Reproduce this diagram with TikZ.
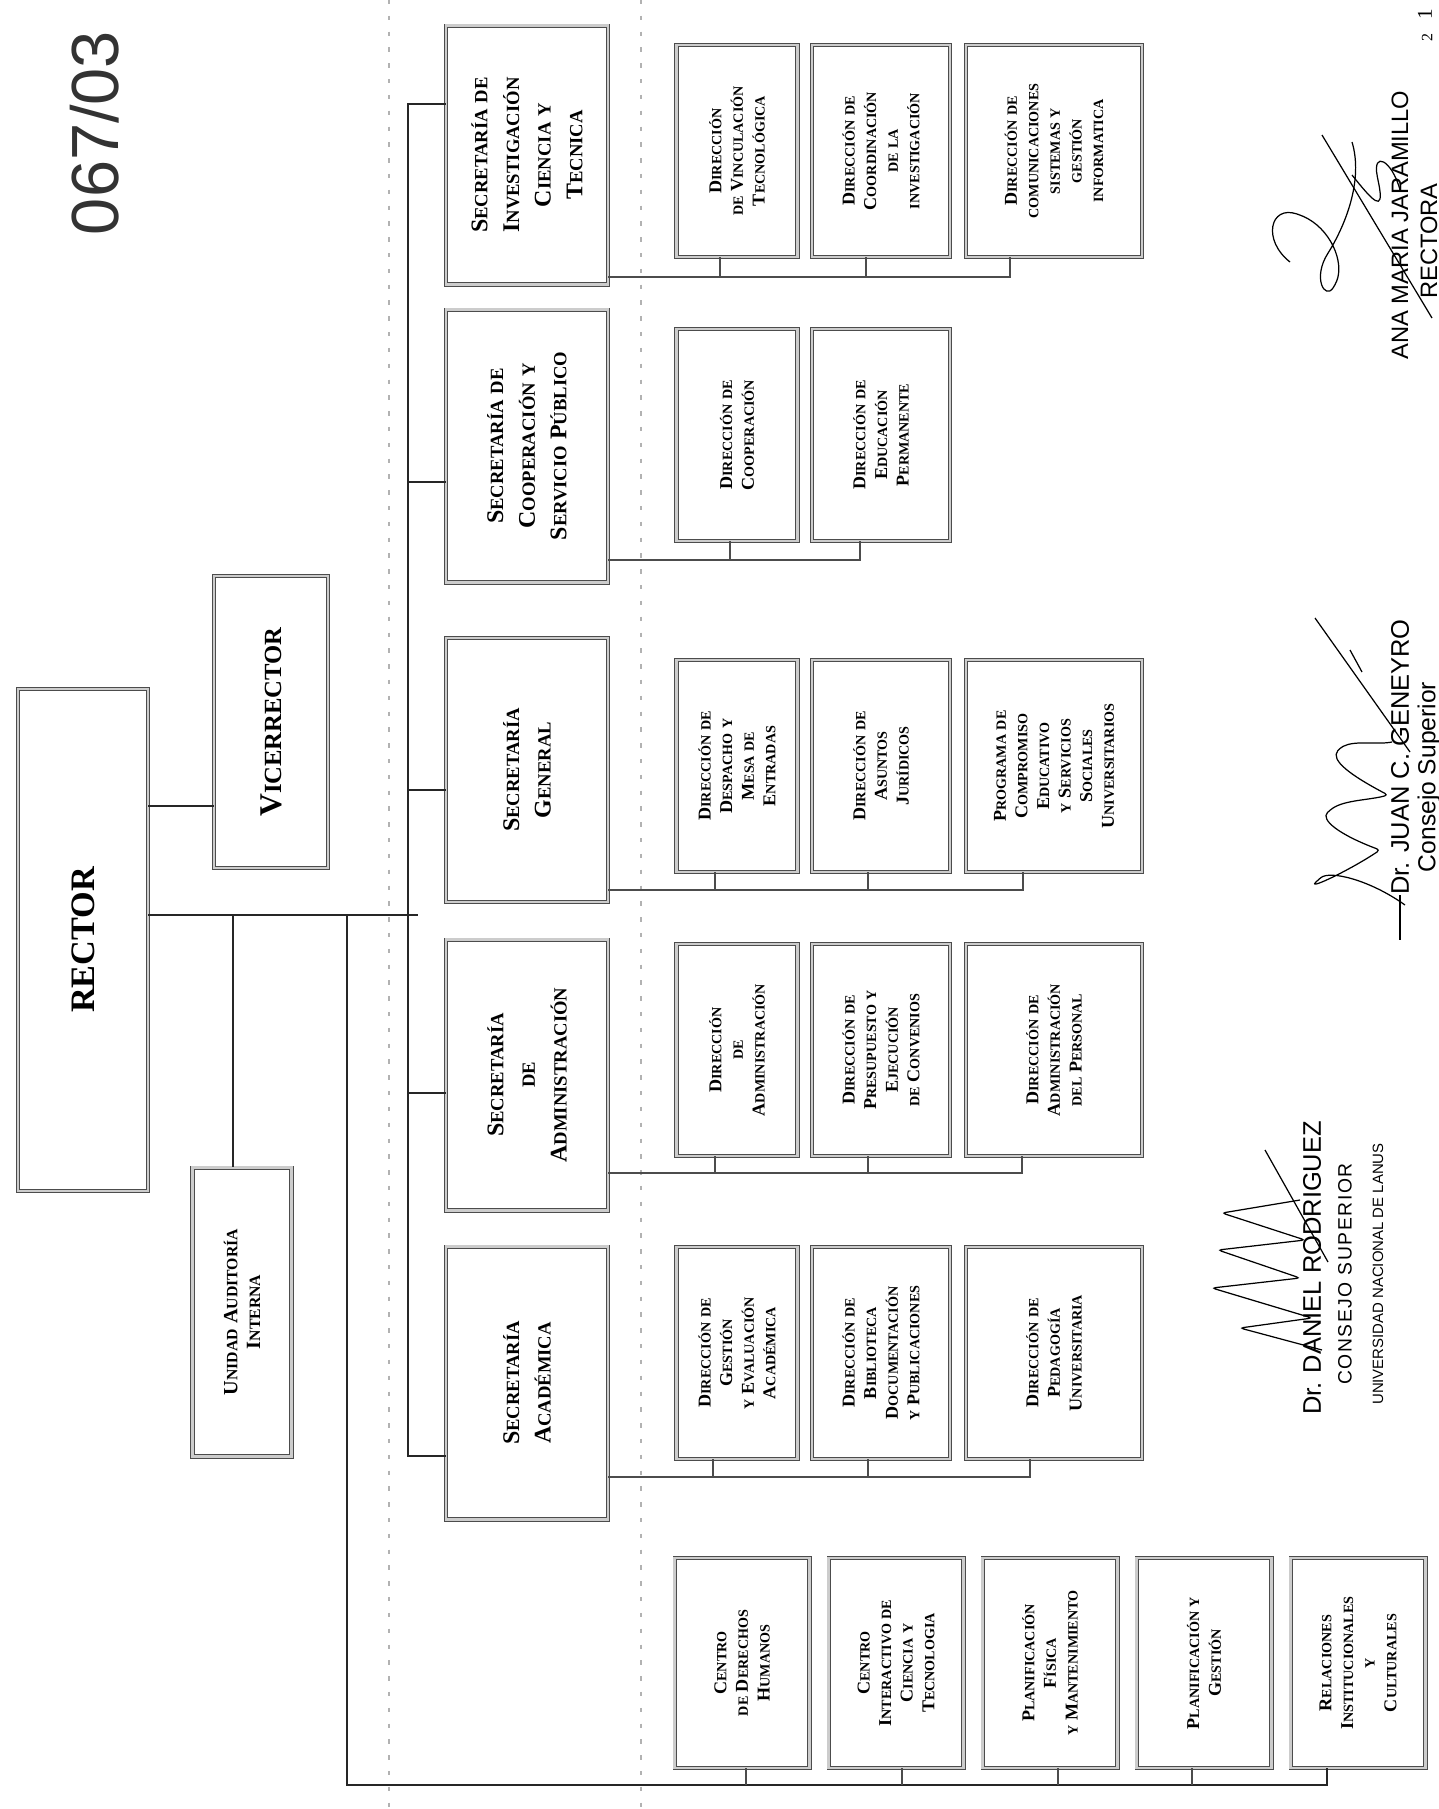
\documentclass[tikz,border=0pt]{standalone}
\usepackage{fontspec}
\setmainfont{Liberation Serif}
\newfontfamily\scfont[Scale=0.78]{Liberation Serif}
\newfontfamily\signfont{Liberation Sans}
% small caps by hand: capitals full size, the rest as smaller capitals
\def\scend{}
\def\scloop#1 #2\scend{\scword#1\scstop\ifx\scend#2\scend\else\ \scloop#2\scend\fi}
\def\scword#1#2\scstop{\ifnum\lccode`#1=`#1\relax{\scfont\uppercase{#1}}\else#1\fi{\scfont\uppercase{#2}}}
\newcommand\sct[1]{\scloop#1 \scend}

\begin{document}
\begin{tikzpicture}[x=0.02cm, y=-0.02cm,
    box/.style={draw=black!70, double=gray!40, double distance=1.3pt, line width=0.5pt,
      fill=white, rotate=90, align=center, inner sep=0pt},
    rectorbox/.style={box, minimum width=10.04cm, minimum height=2.6cm,
      font=\bfseries\fontsize{19.5}{22}\selectfont},
    vicebox/.style={box, minimum width=5.84cm, minimum height=2.28cm,
      font=\bfseries\fontsize{18}{20}\selectfont},
    secbox/.style={box, minimum height=3.24cm, font=\bfseries\fontsize{13.6}{18}\selectfont},
    dirbox/.style={box, minimum width=4.24cm, font=\bfseries\fontsize{10.3}{12.3}\selectfont},
    colA/.style={dirbox, minimum height=2.42cm},
    colB/.style={dirbox, minimum height=2.76cm},
    colC/.style={dirbox, minimum height=3.52cm},
    staffbox/.style={box, minimum width=4.2cm, minimum height=2.7cm,
      font=\bfseries\fontsize{10.3}{12.3}\selectfont},
    link/.style={line width=1.4pt, black!85},
    bus/.style={line width=1.4pt, black!70},
    sep/.style={gray!60, line width=1.2pt, dash pattern=on 2.5pt off 6.5pt},
    sign/.style={line width=0.7pt, black, rounded corners=2pt},
    sigtext/.style={rotate=90, inner sep=0pt}]
\useasboundingbox (0,0) rectangle (1439,1809);
\fill[white] (0,0) rectangle (1439,1809);

% dividers
\draw[sep] (389,0) -- (389,1809);
\draw[sep] (641,0) -- (641,1809);

% stamp
\node[sigtext, font=\signfont\fontsize{38}{40}\selectfont, text=black!80] (stamp) at (95,133) {067/03};
\node[sigtext, font=\fontsize{12}{14}\selectfont] (pageone) at (1425,14) {1};
\node[sigtext, font=\fontsize{9}{11}\selectfont] (pagetwo) at (1427,38) {2};

% top
\node[rectorbox] (rector) at (83,940) {RECTOR};
\node[vicebox] (vice) at (271,722) {\sct{Vicerrector}};
\node[box, minimum width=5.78cm, minimum height=1.98cm,
  font=\bfseries\fontsize{11.5}{13}\selectfont] (unidad) at (242,1312)
  {\sct{Unidad Auditoría}\\\sct{Interna}};

% secretarias
\node[secbox, minimum width=5.18cm] (sinv) at (527,155)
  {\sct{Secretaría de}\\\sct{Investigación}\\\sct{Ciencia y}\\\sct{Tecnica}};
\node[secbox, minimum width=5.46cm] (scoop) at (527,446)
  {\sct{Secretaría de}\\\sct{Cooperación y}\\\sct{Servicio Público}};
\node[secbox, minimum width=5.28cm] (sgen) at (527,770)
  {\sct{Secretaría}\\\sct{General}};
\node[secbox, minimum width=5.42cm] (sadm) at (527,1075)
  {\sct{Secretaría}\\\sct{de}\\\sct{Administración}};
\node[secbox, minimum width=5.46cm] (sacad) at (527,1383)
  {\sct{Secretaría}\\\sct{Académica}};

% direcciones
\node[colA] (dinv1) at (737,151) {\sct{Dirección}\\\sct{de Vinculación}\\\sct{Tecnológica}};
\node[colB] (dinv2) at (881,151) {\sct{Dirección de}\\\sct{Coordinación}\\\sct{de la}\\\sct{investigación}};
\node[colC] (dinv3) at (1054,151) {\sct{Dirección de}\\\sct{comunicaciones}\\\sct{sistemas y}\\\sct{gestión}\\\sct{informatica}};

\node[colA] (dcoop1) at (737,435) {\sct{Dirección de}\\\sct{Cooperación}};
\node[colB] (dcoop2) at (881,435) {\sct{Dirección de}\\\sct{Educación}\\\sct{Permanente}};

\node[colA] (dgen1) at (737,766) {\sct{Dirección de}\\\sct{Despacho y}\\\sct{Mesa de}\\\sct{Entradas}};
\node[colB] (dgen2) at (881,766) {\sct{Dirección de}\\\sct{Asuntos}\\\sct{Jurídicos}};
\node[colC] (dgen3) at (1054,766) {\sct{Programa de}\\\sct{Compromiso}\\\sct{Educativo}\\\sct{y Servicios}\\\sct{Sociales}\\\sct{Universitarios}};

\node[colA] (dadm1) at (737,1050) {\sct{Dirección}\\\sct{de}\\\sct{Administración}};
\node[colB] (dadm2) at (881,1050) {\sct{Dirección de}\\\sct{Presupuesto y}\\\sct{Ejecución}\\\sct{de Convenios}};
\node[colC] (dadm3) at (1054,1050) {\sct{Dirección de}\\\sct{Administración}\\\sct{del Personal}};

\node[colA] (dacad1) at (737,1353) {\sct{Dirección de}\\\sct{Gestión}\\\sct{y Evaluación}\\\sct{Académica}};
\node[colB] (dacad2) at (881,1353) {\sct{Dirección de}\\\sct{Biblioteca}\\\sct{Documentación}\\\sct{y Publicaciones}};
\node[colC] (dacad3) at (1054,1353) {\sct{Dirección de}\\\sct{Pedagogía}\\\sct{Universitaria}};

% staff units
\node[staffbox] (staff1) at (742,1663) {\sct{Centro}\\\sct{de Derechos}\\\sct{Humanos}};
\node[staffbox] (staff2) at (896,1663) {\sct{Centro}\\\sct{Interactivo de}\\\sct{Ciencia y}\\\sct{Tecnologia}};
\node[staffbox] (staff3) at (1050,1663) {\sct{Planificación}\\\sct{Física}\\\sct{y Mantenimiento}};
\node[staffbox] (staff4) at (1204,1663) {\sct{Planificación y}\\\sct{Gestión}};
\node[staffbox] (staff5) at (1358,1663) {\sct{Relaciones}\\\sct{Institucionales}\\\sct{y}\\\sct{Culturales}};

% rector lines
\coordinate (hub) at (418,915);
\draw[link] (rector.south |- 0,806) -- (vice.north |- 0,806);
\draw[link] (rector.south |- hub) -- (hub);
\draw[link] (hub -| 233,0) -- (unidad.east -| 233,0);

% trunk to staff units
\coordinate (trunk) at (347,1785);
\coordinate (sbus) at (1327,1785);
\draw[link] (hub -| trunk) -- (trunk) -- (sbus) -- (sbus |- staff5.west);
\draw[bus] (sbus -| 746,0) -- (staff1.west -| 746,0);
\draw[bus] (sbus -| 902,0) -- (staff2.west -| 902,0);
\draw[bus] (sbus -| 1058,0) -- (staff3.west -| 1058,0);
\draw[bus] (sbus -| 1192,0) -- (staff4.west -| 1192,0);

% spine to secretarias
\coordinate (spinetop) at (408,104);
\coordinate (spinebot) at (408,1456);
\draw[link] (sinv.north |- spinetop) -- (spinetop) -- (spinebot) -- (sacad.north |- spinebot);
\draw[link] (spinetop |- 0,482) -- (scoop.north |- 0,482);
\draw[link] (spinetop |- 0,790) -- (sgen.north |- 0,790);
\draw[link] (spinetop |- 0,1093) -- (sadm.north |- 0,1093);

% secretarias to direcciones
\coordinate (binv) at (1010,277);
\draw[bus] (sinv.south |- binv) -- (binv) -- (binv |- dinv3.west);
\draw[bus] (binv -| 720,0) -- (dinv1.west -| 720,0);
\draw[bus] (binv -| 866,0) -- (dinv2.west -| 866,0);

\coordinate (bcoop) at (860,560);
\draw[bus] (scoop.south |- bcoop) -- (bcoop) -- (bcoop |- dcoop2.west);
\draw[bus] (bcoop -| 730,0) -- (dcoop1.west -| 730,0);

\coordinate (bgen) at (1023,890);
\draw[bus] (sgen.south |- bgen) -- (bgen) -- (bgen |- dgen3.west);
\draw[bus] (bgen -| 715,0) -- (dgen1.west -| 715,0);
\draw[bus] (bgen -| 868,0) -- (dgen2.west -| 868,0);

\coordinate (badm) at (1022,1173);
\draw[bus] (sadm.south |- badm) -- (badm) -- (badm |- dadm3.west);
\draw[bus] (badm -| 715,0) -- (dadm1.west -| 715,0);
\draw[bus] (badm -| 868,0) -- (dadm2.west -| 868,0);

\coordinate (bacad) at (1030,1477);
\draw[bus] (sacad.south |- bacad) -- (bacad) -- (bacad |- dacad3.west);
\draw[bus] (bacad -| 713,0) -- (dacad1.west -| 713,0);
\draw[bus] (bacad -| 868,0) -- (dacad2.west -| 868,0);

% signatures
\node[sigtext, font=\signfont\fontsize{13.5}{15}\selectfont] (jaramillo) at (1400,225) {ANA MARIA JARAMILLO};
\node[sigtext, font=\signfont\fontsize{13.5}{15}\selectfont] (rectora) at (1429,241) {RECTORA};
\draw[sign] (1290,262) .. controls (1262,240) and (1270,205) .. (1300,215)
  .. controls (1330,228) and (1345,262) .. (1335,285)
  .. controls (1325,300) and (1312,278) .. (1330,250)
  .. controls (1350,215) and (1362,175) .. (1352,142);
\draw[sign] (1352,175) .. controls (1372,200) and (1385,215) .. (1378,180)
  .. controls (1372,150) and (1392,160) .. (1400,190);
\draw[sign] (1322,135) -- (1432,318);

\node[sigtext, font=\signfont\fontsize{14.5}{17}\selectfont] (geneyro) at (1400,757) {Dr. JUAN C. GENEYRO};
\node[sigtext, font=\signfont\fontsize{14}{17}\selectfont] (consejo) at (1429,777) {Consejo Superior};
\draw[sign] (geneyro.west) -- ++(0,45);
\draw[sign] (1405,905) .. controls (1370,880) and (1330,870) .. (1318,880)
  .. controls (1308,890) and (1350,870) .. (1380,850)
  .. controls (1340,835) and (1320,820) .. (1330,810)
  .. controls (1345,800) and (1370,800) .. (1388,795)
  .. controls (1350,775) and (1330,760) .. (1340,748)
  .. controls (1355,740) and (1378,745) .. (1392,742);
\draw[sign] (1315,618) -- (1410,752);
\draw[sign] (1350,650) -- (1362,672);

\node[sigtext, font=\signfont\fontsize{14.5}{16}\selectfont] (rodriguez) at (1312,1268) {Dr. DANIEL RODRIGUEZ};
\node[sigtext, font=\signfont\fontsize{11}{13}\selectfont\addfontfeature{LetterSpace=8}] (consup) at (1345,1274) {CONSEJO SUPERIOR};
\node[sigtext, font=\signfont\fontsize{8.5}{10}\selectfont] (unla) at (1378,1274) {UNIVERSIDAD NACIONAL DE LANUS};
\draw[sign] (1322,1350) -- (1240,1328) -- (1312,1318) -- (1212,1288) -- (1300,1278)
  -- (1218,1250) -- (1305,1240) -- (1222,1213) -- (1300,1200);
\draw[sign] (1265,1150) -- (1328,1262);
\end{tikzpicture}
\end{document}
